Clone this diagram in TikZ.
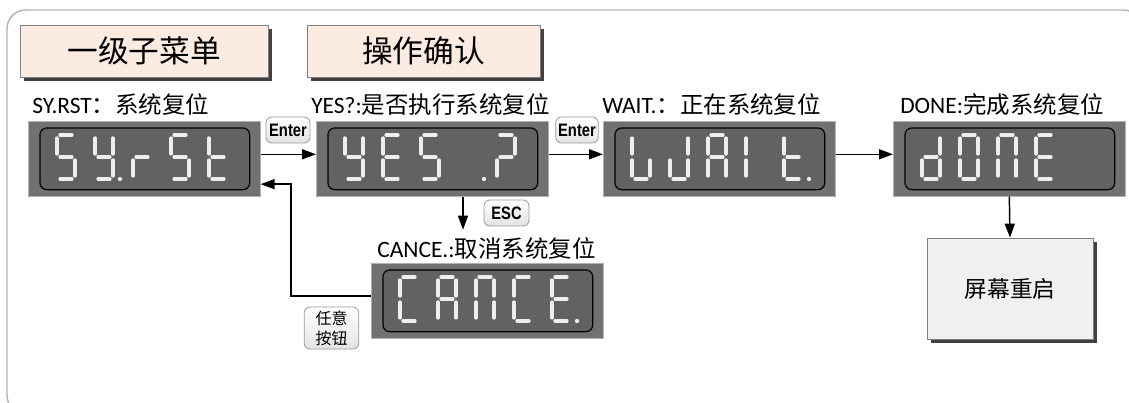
\documentclass[tikz,border=0pt]{standalone}
\usepackage{fontspec}
\setmainfont{Carlito}
\newfontfamily\cjk{Noto Sans CJK SC}
\newfontfamily\nb{Liberation Sans}[FakeStretch=0.82]
\usetikzlibrary{arrows.meta,shadows,calc}
\definecolor{peach}{RGB}{251,235,224}
\definecolor{lcdout}{RGB}{113,113,113}
\definecolor{lcdin}{RGB}{98,98,98}
\definecolor{segc}{RGB}{238,238,238}
\definecolor{framec}{RGB}{180,180,180}
\definecolor{boxc}{RGB}{240,240,240}
\newcommand\sga{\draw[seg] (3,0)--(15,0);}
\newcommand\sgb{\draw[seg] (18,3)--(18,19);}
\newcommand\sgc{\draw[seg] (18,25)--(18,41);}
\newcommand\sgd{\draw[seg] (3,44)--(15,44);}
\newcommand\sge{\draw[seg] (0,25)--(0,41);}
\newcommand\sgf{\draw[seg] (0,3)--(0,19);}
\newcommand\sgg{\draw[seg] (3,22)--(15,22);}
\newcommand\sgp{\fill[segc] (25,44) circle[radius=1.6pt];}
\newcommand\dig[3]{\begin{scope}[shift={(#1,#2)}]\foreach \s in {#3}{\csname sg\s\endcsname}\end{scope}}
\newcommand\lcd[3]{\node[lcdbox,anchor=north west] (#1) at (#2,#3) {};
  \draw[lcdinner] ($(#1.north west)+(12,7)$) rectangle ($(#1.south east)+(-11,-7)$);}
\begin{document}
\begin{tikzpicture}[x=0.75pt,y=-0.75pt,
  seg/.style={draw=segc,line width=2.4pt,line cap=round},
  lcdbox/.style={rectangle,fill=lcdout,draw=gray!60,line width=0.5pt,minimum width=174pt,minimum height=56.25pt,inner sep=0pt},
  lcdinner/.style={fill=lcdin,draw=black,line width=0.9pt,rounded corners=5pt},
  hdr/.style={rectangle,fill=peach,draw=gray,line width=0.6pt,minimum height=39pt,inner sep=0pt,
    font=\cjk\fontsize{23pt}{26pt}\selectfont,
    drop shadow={shadow xshift=3pt,shadow yshift=-3pt,fill=black!75,opacity=1}},
  rbox/.style={rectangle,fill=boxc,draw=gray,line width=0.6pt,minimum width=124.5pt,minimum height=75.75pt,inner sep=0pt,
    font=\cjk\fontsize{17pt}{20pt}\selectfont,
    drop shadow={shadow xshift=3pt,shadow yshift=-3pt,fill=black!75,opacity=1}},
  lbl/.style={inner sep=0pt,anchor=west,font=\fontsize{17.6pt}{20pt}\selectfont},
  btn/.style={rectangle,rounded corners=4.5pt,draw=gray!80,line width=0.6pt,top color=white,bottom color=gray!22,inner sep=0pt,
    font=\nb\bfseries\fontsize{13.5pt}{15pt}\selectfont},
  arr/.style={draw=black,line width=1.1pt,-{Triangle[length=10.5pt,width=7.5pt]}}]
\useasboundingbox (0,0) rectangle (1129,403);
\draw[framec,line width=1.1pt,rounded corners=14pt] (7,10) rectangle (1142,414);
% headers
\node[hdr,minimum width=186pt] (h1) at (144,51) {一级子菜单};
\node[hdr,minimum width=174.75pt] (h2) at (423.5,51) {操作确认};
% labels
\node[lbl] (l1) at (32,105) {SY.RST{\cjk ：系统复位}};
\node[lbl] (l2) at (311,105) {YES?:{\cjk 是否执行系统复位}};
\node[lbl] (l3) at (602,105) {WAIT.{\cjk ：正在系统复位}};
\node[lbl] (l4) at (900,105) {DONE:{\cjk 完成系统复位}};
\node[lbl] (l5) at (377,248) {CANCE.:{\cjk 取消系统复位}};
% displays
\lcd{d1}{28}{121}
\dig{57}{135}{a,f,g,c,d}\dig{95}{135}{f,b,g,c,d,p}\dig{133}{135}{e,g}\dig{171}{135}{a,f,g,c,d}\dig{209}{135}{f,e,g,d}
\lcd{d2}{316}{121}
\dig{345}{135}{f,b,g,c,d}\dig{383}{135}{a,f,g,e,d}\dig{421}{135}{a,f,g,c,d}\dig{459}{135}{p}\dig{497}{135}{a,b,g,e}
\lcd{d3}{603}{121}
\dig{632}{135}{f,e,d,c}\dig{670}{135}{e,d,b,c}\dig{708}{135}{a,b,c,e,f,g}\dig{746}{135}{f,e}\dig{784}{135}{f,e,g,d,p}
\lcd{d4}{893}{121}
\dig{922}{135}{b,c,d,e,g}\dig{960}{135}{a,b,c,d,e,f}\dig{998}{135}{a,b,c,e,f}\dig{1036}{135}{a,f,g,e,d}
\lcd{d5}{371}{263}
\dig{400}{277}{a,f,e,d}\dig{438}{277}{a,b,c,e,f,g}\dig{476}{277}{a,b,c,e,f}\dig{514}{277}{a,f,e,d}\dig{552}{277}{a,f,g,e,d,p}
% restart box
\node[rbox] (rs) at (1010,288.5) {屏幕重启};
% buttons
\node[btn,minimum width=33pt,minimum height=19.5pt] (b1) at (288,130) {Enter};
\node[btn,minimum width=32pt,minimum height=19.5pt] (b2) at (577,130) {Enter};
\node[btn,minimum width=33.75pt,minimum height=19.5pt] (b3) at (506.5,213) {ESC};
\node[btn,minimum width=41pt,minimum height=31.5pt,font=\cjk\fontsize{12pt}{15pt}\selectfont,align=center] (b4) at (331.5,328) {任意\\按钮};
% connectors
\draw[arr] ([yshift=3.4pt]d1.east) -- ([yshift=3.4pt]d2.west);
\draw[arr] ([yshift=3.4pt]d2.east) -- ([yshift=3.4pt]d3.west);
\draw[arr] ([yshift=3.4pt]d3.east) -- ([yshift=3.4pt]d4.west);
\draw[arr] ([xshift=23pt]d2.south) -- ++(0,33);
\draw[arr] ([yshift=3.5pt]d5.west) -- ++(-80,0) |- ([yshift=-19pt]d1.east);
\draw[arr] (d4.south) -- (rs.north);
\end{tikzpicture}
\end{document}
